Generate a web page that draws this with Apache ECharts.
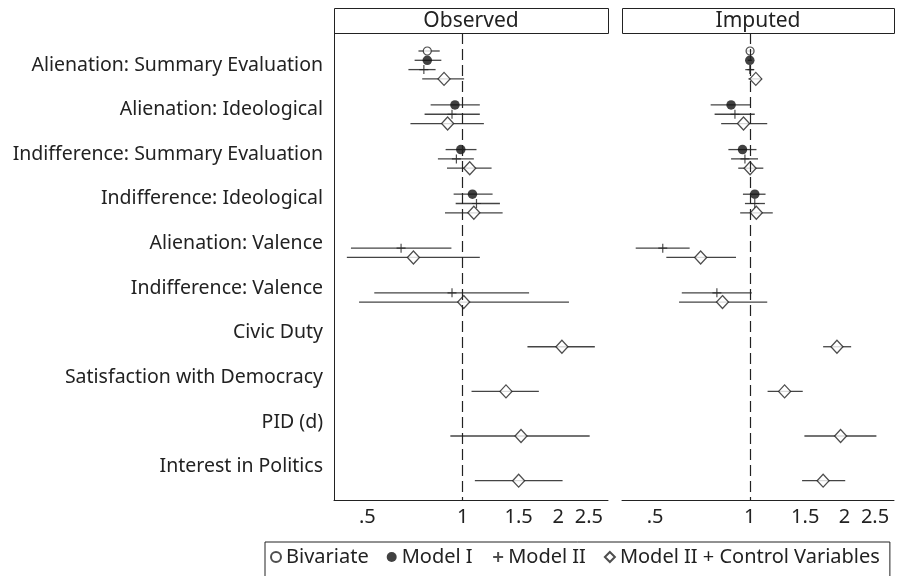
<!DOCTYPE html>
<html>
<head>
<meta charset="utf-8">
<script src="https://cdn.jsdelivr.net/npm/echarts@6/dist/echarts.min.js"></script>
<style>html,body{margin:0;padding:0;background:#fff}#c{width:900px;height:576px}</style>
</head>
<body>
<div id="c"></div>
<script>
// ---------- data ----------
const categories = [
  'Alienation: Summary Evaluation',
  'Alienation: Ideological',
  'Indifference: Summary Evaluation',
  'Indifference: Ideological',
  'Alienation: Valence',
  'Indifference: Valence',
  'Civic Duty',
  'Satisfaction with Democracy',
  'PID (d)',
  'Interest in Politics'
];
const panels = ['Observed', 'Imputed'];
const models = ['Bivariate', 'Model I', 'Model II', 'Model II + Control Variables'];
const tickValues = [0.5, 1, 1.5, 2, 2.5];
const tickLabels = ['.5', '1', '1.5', '2', '2.5'];

// [estimate, lower, upper] odds ratios, one entry per category (null = not estimated)
const obsBivariate = [[0.773, 0.725, 0.846], null, null, null, null, null, null, null, null, null];
const obsModel1 = [[0.773, 0.705, 0.856], [0.945, 0.792, 1.132], [0.986, 0.883, 1.105], [1.073, 0.936, 1.242], null, null, null, null, null, null];
const obsModel2 = [[0.754, 0.674, 0.821], [0.925, 0.758, 1.132], [0.955, 0.835, 1.084], [1.105, 0.950, 1.310], [0.639, 0.444, 0.921], [0.925, 0.526, 1.619], null, null, null, null];
const obsControl = [[0.873, 0.745, 1.010], [0.896, 0.684, 1.166], [1.052, 0.892, 1.233], [1.084, 0.879, 1.336], [0.699, 0.431, 1.132], [1.007, 0.471, 2.163], [2.055, 1.600, 2.610], [1.369, 1.066, 1.738], [1.527, 0.914, 2.514], [1.501, 1.092, 2.065]];

const impBivariate = [[1.002, 0.975, 1.030], null, null, null, null, null, null, null, null, null];
const impModel1 = [[1.000, 0.985, 1.015], [0.872, 0.751, 1.007], [0.948, 0.855, 1.050], [1.037, 0.951, 1.122], null, null, null, null, null, null];
const impModel2 = [[1.000, 0.983, 1.030], [0.897, 0.773, 1.037], [0.965, 0.872, 1.062], [1.037, 0.965, 1.117], [0.529, 0.434, 0.644], [0.786, 0.608, 1.015], null, null, null, null];
const impControl = [[1.045, 0.990, 1.090], [0.955, 0.811, 1.136], [1.002, 0.919, 1.104], [1.049, 0.932, 1.183], [0.698, 0.543, 0.904], [0.819, 0.596, 1.136], [1.892, 1.710, 2.099], [1.290, 1.139, 1.473], [1.943, 1.491, 2.525], [1.710, 1.466, 2.010]];

const panelData = [
  [obsBivariate, obsModel1, obsModel2, obsControl],
  [impBivariate, impModel1, impModel2, impControl]
];

// ---------- layout / style ----------
const FONT = 'Noto Sans';
const FS_LABEL = 19.5;
const FS_TICK = 20;
const FS_LEGEND = 20;
const FS_HEAD = 21;
const CAT = 4.8;          // rows per category block
const grids = [
  {left: 334, top: 33, width: 274, height: 467},
  {left: 622, top: 33, width: 272, height: 467}
];
const xMin = -0.935, xMax = 1.055;
const yMin = -1.935, yMax = 48.28;
const ink = '#222';
const ciColor = '#444';

const symbols = [
  {symbol: 'circle', symbolSize: 8, itemStyle: {color: '#fff', borderColor: ink, borderWidth: 1.2}},
  {symbol: 'circle', symbolSize: 9.5, itemStyle: {color: '#111', borderColor: '#111', borderWidth: 0}},
  {symbol: 'path://M5,0L5,10M0,5L10,5', symbolSize: 9, itemStyle: {color: 'none', borderColor: ink, borderWidth: 1.2}},
  {symbol: 'diamond', symbolSize: [12, 13], itemStyle: {color: '#fff', borderColor: ink, borderWidth: 1.3}}
];

const series = [];
panelData.forEach((mods, p) => {
  mods.forEach((arr, m) => {
    const pts = [];
    arr.forEach((d, i) => {
      if (d) pts.push([Math.log(d[0]), i * CAT + m, Math.log(d[1]), Math.log(d[2])]);
    });
    series.push({
      type: 'custom',
      name: 'ci' + p + m,
      xAxisIndex: p, yAxisIndex: p,
      z: 1, silent: true,
      data: pts,
      renderItem: function (params, api) {
        const a = api.coord([api.value(2), api.value(1)]);
        const b = api.coord([api.value(3), api.value(1)]);
        return {type: 'line', shape: {x1: a[0], y1: a[1], x2: b[0], y2: b[1]},
                style: {stroke: ciColor, lineWidth: 1.3}};
      }
    });
    const s = Object.assign({
      type: 'scatter',
      name: models[m],
      xAxisIndex: p, yAxisIndex: p,
      z: 3, silent: true,
      data: pts.map(q => [q[0], q[1]])
    }, symbols[m]);
    if (m === 3) {
      s.markLine = {
        silent: true, symbol: 'none', label: {show: false},
        lineStyle: {type: [11, 5], color: ink, width: 1.2},
        data: [{xAxis: 0}]
      };
    }
    series.push(s);
  });
});

const catCenters = categories.map((c, i) => i * CAT + 1.5);

const xAxes = grids.map((g, p) => ({
  type: 'value', gridIndex: p, min: xMin, max: xMax,
  axisLine: {show: true, onZero: false, lineStyle: {color: ink, width: 1}},
  axisTick: {show: false},
  splitLine: {show: false},
  axisLabel: {
    customValues: tickValues.map(v => Math.log(v)),
    formatter: function (v) {
      let best = 0;
      tickValues.forEach((t, k) => { if (Math.abs(Math.log(t) - v) < Math.abs(Math.log(tickValues[best]) - v)) best = k; });
      return tickLabels[best];
    },
    fontFamily: FONT, fontSize: FS_TICK, color: ink, margin: 7
  }
}));

const yAxes = grids.map((g, p) => ({
  type: 'value', gridIndex: p, inverse: true, min: yMin, max: yMax,
  axisLine: {show: p === 0, onZero: false, lineStyle: {color: ink, width: 1}},
  axisTick: {show: false},
  splitLine: {show: false},
  axisLabel: p === 0 ? {
    show: true,
    customValues: catCenters,
    formatter: function (v) { return categories[Math.round((v - 1.5) / CAT)] || ''; },
    fontFamily: FONT, fontSize: FS_LABEL, color: ink, margin: 11
  } : {show: false}
}));

const graphic = [];
grids.forEach((g, p) => {
  graphic.push({
    type: 'rect', left: g.left, top: 8, silent: true,
    shape: {width: g.width, height: 25},
    style: {fill: '#fff', stroke: ink, lineWidth: 1}
  });
  graphic.push({
    type: 'text', silent: true,
    x: g.left + g.width / 2, y: 21,
    style: {text: panels[p], font: FS_HEAD + 'px "' + FONT + '"', fill: ink, align: 'center', verticalAlign: 'middle'}
  });
});

const chart = echarts.init(document.getElementById('c'), null, {renderer: 'canvas'});
chart.setOption({
  animation: false,
  backgroundColor: '#fff',
  grid: grids,
  xAxis: xAxes,
  yAxis: yAxes,
  graphic: graphic,
  legend: {
    data: models,
    left: 265, top: 542,
    padding: [5, 10, 20, 5],
    borderColor: ink, borderWidth: 1,
    itemWidth: 10, itemHeight: 10, itemGap: 18,
    selectedMode: false,
    textStyle: {fontFamily: FONT, fontSize: FS_LEGEND, color: ink, padding: [0, 0, 0, 0]}
  },
  series: series
});
</script>
</body>
</html>
